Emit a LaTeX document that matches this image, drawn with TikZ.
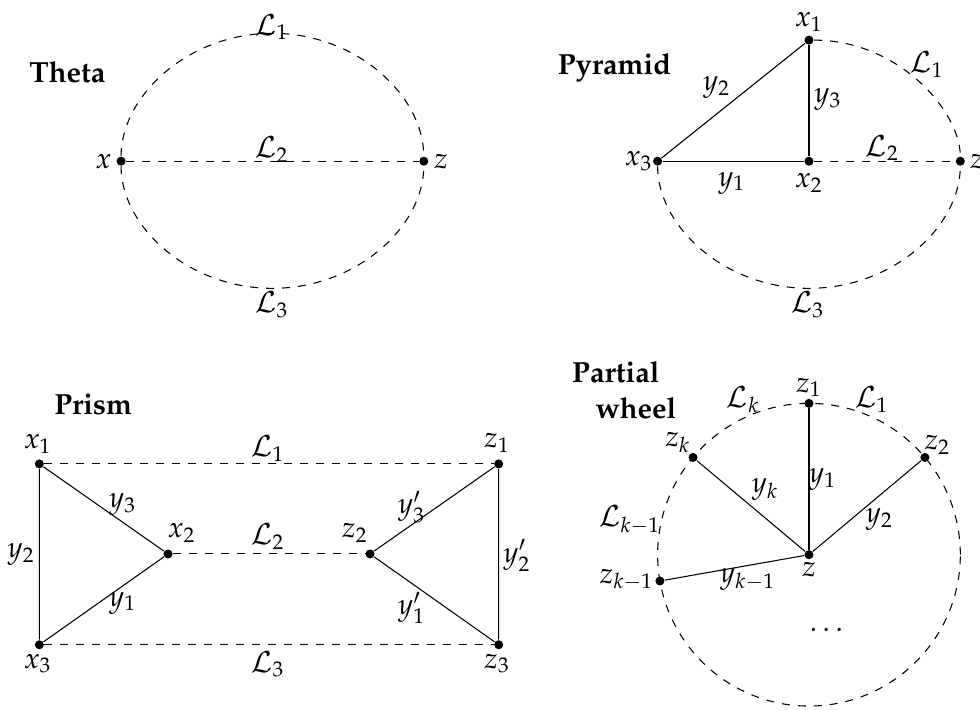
\documentclass[tikz,border=0pt,11pt]{standalone}
\usepackage[T1]{fontenc}
\usepackage{mathpazo}
\usetikzlibrary{positioning,calc}

\begin{document}
\begin{tikzpicture}[
    vtx/.style={circle, fill=black, inner sep=0pt, minimum size=3.4pt},
    lpath/.style={dashed, thin},
    edge/.style={thin},
    title/.style={font=\bfseries, align=left},
    upleft/.style={out=90, in=180, out distance=0.79cm, in distance=1.12cm},
    upright/.style={out=0, in=90, out distance=1.12cm, in distance=0.79cm},
    dnleft/.style={out=-90, in=180, out distance=0.79cm, in distance=1.12cm},
    dnright/.style={out=0, in=-90, out distance=1.12cm, in distance=0.79cm},
]
\useasboundingbox (0,0) rectangle (12.95,-9.37);

% Theta
\node[title] (thetaT) at (0.89,-0.95) {Theta};
\node[vtx] (tx) at (1.60,-2.13) {};
\node[vtx] (tz) at (5.60,-2.13) {};
\coordinate (ttop) at (3.60,-0.44);
\coordinate (tbot) at (3.60,-3.81);
\draw[lpath] (tx) to[upleft] (ttop) to[upright] (tz);
\draw[lpath] (tx) to[dnleft] (tbot) to[dnright] (tz);
\draw[lpath] (tx) -- (tz);
\node (txl) at (1.37,-2.13) {$x$};
\node (tzl) at (5.83,-2.13) {$z$};
\node (tL1) at (3.59,-0.36) {$\mathcal{L}_1$};
\node (tL2) at (3.59,-1.98) {$\mathcal{L}_2$};
\node (tL3) at (3.59,-4.03) {$\mathcal{L}_3$};

% Pyramid
\node[title] (pyrT) at (8.12,-0.90) {Pyramid};
\node[vtx] (px1) at (10.69,-0.53) {};
\node[vtx] (px2) at (10.69,-2.13) {};
\node[vtx] (px3) at (8.69,-2.13) {};
\node[vtx] (pz) at (12.69,-2.13) {};
\coordinate (pbot) at (10.69,-3.81);
\draw[edge] (px3) -- (px1);
\draw[edge] (px1) -- (px2);
\draw[edge] (px3) -- (px2);
\draw[lpath] (px2) -- (pz);
\draw[lpath] (px1) to[out=0, in=90, out distance=1.12cm, in distance=0.59cm] (pz);
\draw[lpath] (px3) to[dnleft] (pbot) to[dnright] (pz);
\node (px1l) at (10.69,-0.29) {$x_1$};
\node (px2l) at (10.69,-2.42) {$x_2$};
\node (px3l) at (8.44,-2.13) {$x_3$};
\node (pzl) at (12.91,-2.13) {$z$};
\node (py1) at (9.67,-2.42) {$y_1$};
\node (py2) at (9.47,-1.16) {$y_2$};
\node (py3) at (10.94,-1.32) {$y_3$};
\node (pL1) at (12.25,-0.85) {$\mathcal{L}_1$};
\node (pL2) at (11.66,-1.96) {$\mathcal{L}_2$};
\node (pL3) at (10.67,-4.03) {$\mathcal{L}_3$};

% Prism
\node[title] (priT) at (1.23,-5.35) {Prism};
\node[vtx] (rx1) at (0.52,-6.13) {};
\node[vtx] (rx2) at (2.22,-7.32) {};
\node[vtx] (rx3) at (0.52,-8.52) {};
\node[vtx] (rz1) at (6.59,-6.13) {};
\node[vtx] (rz2) at (4.89,-7.32) {};
\node[vtx] (rz3) at (6.59,-8.52) {};
\draw[edge] (rx1) -- (rx2) -- (rx3) -- (rx1);
\draw[edge] (rz1) -- (rz2) -- (rz3) -- (rz1);
\draw[lpath] (rx1) -- (rz1);
\draw[lpath] (rx2) -- (rz2);
\draw[lpath] (rx3) -- (rz3);
\node (rx1l) at (0.50,-5.87) {$x_1$};
\node (rx2l) at (2.40,-7.04) {$x_2$};
\node (rx3l) at (0.50,-8.77) {$x_3$};
\node (rz1l) at (6.57,-5.85) {$z_1$};
\node (rz2l) at (4.69,-7.04) {$z_2$};
\node (rz3l) at (6.57,-8.77) {$z_3$};
\node (ry1) at (1.62,-7.97) {$y_1$};
\node (ry2) at (0.28,-7.33) {$y_2$};
\node (ry3) at (1.62,-6.67) {$y_3$};
\node (ry1p) at (5.44,-8.03) {$y_1'$};
\node (ry2p) at (6.83,-7.34) {$y_2'$};
\node (ry3p) at (5.44,-6.70) {$y_3'$};
\node (rL1) at (3.54,-5.93) {$\mathcal{L}_1$};
\node (rL2) at (3.54,-7.09) {$\mathcal{L}_2$};
\node (rL3) at (3.54,-8.78) {$\mathcal{L}_3$};

% Partial wheel
\node[title] (whT) at (8.25,-5.15) {Partial\\\hspace*{0.8em}wheel};
\node[vtx] (wz) at (10.69,-7.33) {};
\draw[lpath] (wz) circle[radius=2];
\node[vtx] (wz1) at ($(wz)+(90:2)$) {};
\node[vtx] (wz2) at ($(wz)+(40:2)$) {};
\node[vtx] (wzk) at ($(wz)+(140:2)$) {};
\node[vtx] (wzk1) at ($(wz)+(190:2)$) {};
\foreach \v in {wz1,wz2,wzk,wzk1}
  \draw[edge] (wz) -- (\v);
\node (wzl) at (10.69,-7.53) {$z$};
\node (wz1l) at (10.69,-5.12) {$z_1$};
\node (wz2l) at (12.39,-5.88) {$z_2$};
\node (wzkl) at (8.96,-5.85) {$z_k$};
\node (wzk1l) at (8.28,-7.66) {$z_{k-1}$};
\node (wy1) at (10.87,-6.34) {$y_1$};
\node (wy2) at (11.62,-6.87) {$y_2$};
\node (wyk) at (10.11,-6.47) {$y_k$};
\node (wyk1) at (9.88,-7.66) {$y_{k-1}$};
\node (wL1) at (11.52,-5.28) {$\mathcal{L}_1$};
\node (wLk) at (9.82,-5.28) {$\mathcal{L}_k$};
\node (wLk1) at (8.32,-6.87) {$\mathcal{L}_{k-1}$};
\node (wdots) at (10.92,-8.32) {$\dots$};

\end{tikzpicture}
\end{document}
